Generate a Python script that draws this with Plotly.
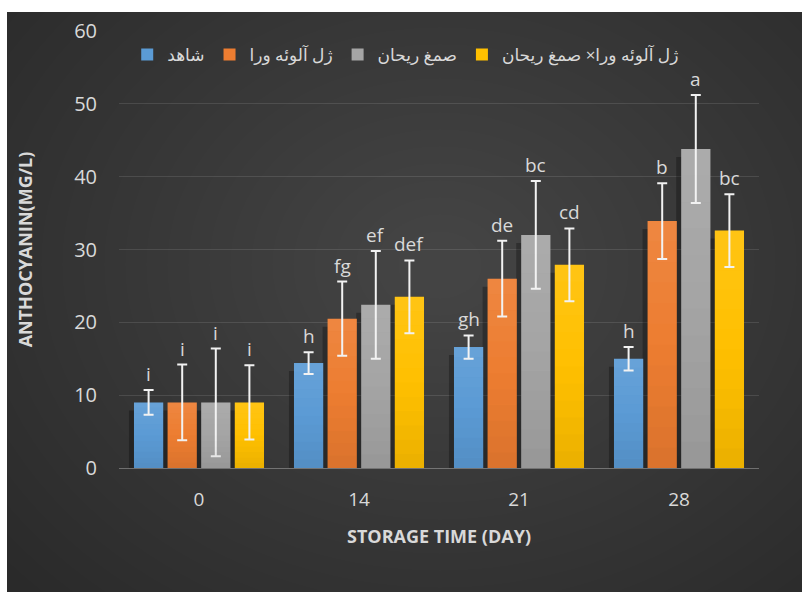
import plotly.graph_objects as go

# Storage days (categories)
days = ["0", "14", "21", "28"]

# Treatments
series_names = ["شاهد", "ژل آلوئه ورا", "صمغ ریحان", "ژل آلوئه ورا× صمغ ریحان"]
colors = ["#5B9BD5", "#ED7D31", "#A5A5A5", "#FFC000"]

# Anthocyanin (mg/L) per treatment
control = [9.0, 14.4, 16.6, 15.0]
aloe = [9.0, 20.5, 26.0, 33.9]
basil = [9.0, 22.4, 32.0, 43.8]
aloe_basil = [9.0, 23.5, 27.9, 32.6]

# Standard deviations
control_err = [1.7, 1.5, 1.6, 1.6]
aloe_err = [5.2, 5.1, 5.2, 5.2]
basil_err = [7.4, 7.4, 7.4, 7.4]
aloe_basil_err = [5.1, 5.0, 5.0, 5.0]

# Significance letters
control_letters = ["i", "h", "gh", "h"]
aloe_letters = ["i", "fg", "de", "b"]
basil_letters = ["i", "ef", "bc", "a"]
aloe_basil_letters = ["i", "def", "cd", "bc"]

values = [control, aloe, basil, aloe_basil]
errors = [control_err, aloe_err, basil_err, aloe_basil_err]
letters = [control_letters, aloe_letters, basil_letters, aloe_basil_letters]

FONT = "Open Sans, DejaVu Sans, sans-serif"
TXT = "#D9D9D9"

W, H = 802, 592
ML, MR, MT, MB = 119, 43, 31, 124
PW, PH = W - ML - MR, H - MT - MB
BARGAP, GROUPGAP = 0.16, 0.13
n = len(values)
slot = (1 - BARGAP) / n
bw = slot * (1 - GROUPGAP)
px_x = 1.0 / (PW / len(days))   # category units per pixel
px_y = 60.0 / PH                # data units per pixel


def px_to_paper_x(px):
    return (px - ML) / PW


def px_to_paper_y(py):
    return (H - MB - py) / PH


fig = go.Figure()
for name, col, vals, errs in zip(series_names, colors, values, errors):
    fig.add_trace(go.Bar(
        x=days, y=vals, name=name,
        marker=dict(color=col, line=dict(width=0)),
        error_y=dict(type="data", array=errs, visible=True,
                     color="#F2F2F2", thickness=2, width=5),
    ))

shapes = []
# dark chart card on white page
shapes.append(dict(type="rect", xref="paper", yref="paper", layer="below",
                   x0=px_to_paper_x(7), x1=px_to_paper_x(W + 2),
                   y0=px_to_paper_y(H + 2), y1=px_to_paper_y(12),
                   fillcolor="#2A2A2A", line=dict(width=0)))
# soft radial glow
cx, cy = 440, 265
steps = 26
for k in range(steps):
    r = 540 - k * 20
    shapes.append(dict(type="circle", xref="paper", yref="paper", layer="below",
                       x0=px_to_paper_x(cx - r * 1.05), x1=px_to_paper_x(cx + r * 1.05),
                       y0=px_to_paper_y(cy + r * 0.85), y1=px_to_paper_y(cy - r * 0.85),
                       fillcolor="rgba(255,255,255,0.0062)", line=dict(width=0)))

annotations = []
BANDS = 12
for j, (vals, errs, labs) in enumerate(zip(values, errors, letters)):
    off = (j - (n - 1) / 2) * slot
    for i, (v, e, lab) in enumerate(zip(vals, errs, labs)):
        c = i + off
        # drop shadow behind each bar
        shapes.append(dict(type="rect", xref="x", yref="y", layer="between",
                           x0=c - bw / 2 - 5 * px_x, x1=c + bw / 2 - 5 * px_x,
                           y0=0, y1=max(v - 8 * px_y, 0),
                           fillcolor="rgba(0,0,0,0.28)", line=dict(width=0)))
        # vertical sheen: lighter top, deeper bottom
        for b in range(BANDS):
            t = (b + 0.5) / BANDS          # 0 bottom .. 1 top
            if t > 0.5:
                fill = "rgba(255,255,255,%.3f)" % (0.16 * (t - 0.5))
            else:
                fill = "rgba(0,0,0,%.3f)" % (0.16 * (0.5 - t))
            shapes.append(dict(type="rect", xref="x", yref="y", layer="above",
                               x0=c - bw / 2, x1=c + bw / 2,
                               y0=v * b / BANDS, y1=v * (b + 1) / BANDS,
                               fillcolor=fill, line=dict(width=0)))
        annotations.append(dict(x=c, y=v + e, xref="x", yref="y", text=lab,
                                showarrow=False, yanchor="bottom", yshift=1,
                                font=dict(family=FONT, size=19, color=TXT)))

fig.update_layout(
    width=W, height=H,
    margin=dict(l=ML, r=MR, t=MT, b=MB, pad=0),
    paper_bgcolor="white",
    plot_bgcolor="rgba(0,0,0,0)",
    barmode="group", bargap=BARGAP, bargroupgap=GROUPGAP,
    font=dict(family=FONT, color=TXT, size=16),
    shapes=shapes,
    annotations=annotations,
    showlegend=True,
    legend=dict(orientation="h", x=0.448, xanchor="center", y=0.945, yanchor="middle",
                bgcolor="rgba(0,0,0,0)", font=dict(family=FONT, size=17, color=TXT),
                itemwidth=30, traceorder="normal"),
    xaxis=dict(
        type="category", showgrid=False, showline=True,
        linecolor="rgba(255,255,255,0.3)", linewidth=1, ticks="",
        ticklabelstandoff=14,
        tickfont=dict(family=FONT, size=19, color=TXT),
        title=dict(text="<b>STORAGE TIME (DAY)</b>", standoff=19,
                   font=dict(family=FONT, size=18, color=TXT)),
    ),
    yaxis=dict(
        range=[0, 60], dtick=10, showgrid=True,
        gridcolor="rgba(255,255,255,0.11)", gridwidth=1,
        zeroline=False, showline=False, ticks="",
        ticklabelstandoff=21,
        tickfont=dict(family=FONT, size=20, color=TXT),
        title=dict(text="<b>ANTHOCYANIN(MG/L)</b>", standoff=36,
                   font=dict(family=FONT, size=18, color=TXT)),
    ),
)

fig.write_html("out.html")
